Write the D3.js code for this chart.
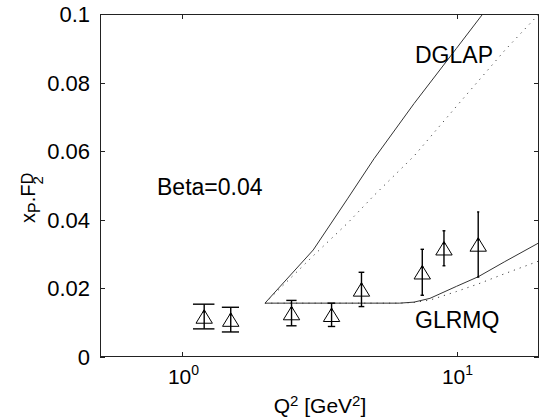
<!DOCTYPE html>
<html>
<head>
<meta charset="utf-8">
<script src="https://cdn.jsdelivr.net/npm/d3@7"></script>
<style>
  html, body { margin: 0; padding: 0; background: #fff; }
  svg { display: block; font-family: "Liberation Sans", Arial, Helvetica, sans-serif; }
</style>
</head>
<body>
<svg id="chart" width="545" height="417"></svg>
<script>
// Measured diffractive structure function points (Q^2, x_P F2^D, error)
const q2Data = [1.2, 1.5, 2.5, 3.5, 4.5, 7.5, 9, 12];
const f2Data = [0.0118, 0.0109, 0.0128, 0.0123, 0.0197, 0.0247, 0.0317, 0.0328];
const f2Err  = [0.0036, 0.0036, 0.0037, 0.0034, 0.0050, 0.0067, 0.0051, 0.0095];

// Model curves
const dglapQ2      = [2, 3, 4, 5, 7, 10, 15, 20];
const dglapSolid   = [0.0157, 0.0312, 0.0461, 0.0578, 0.0739, 0.0900, 0.1084, 0.1210];
const dglapDotted  = [0.0157, 0.0295, 0.0390, 0.0471, 0.0586, 0.0731, 0.0894, 0.1000];

const glrmqQ2      = [2, 4, 6.2, 7, 8, 10, 12, 15, 20];
const glrmqSolid   = [0.0157, 0.0157, 0.0157, 0.0160, 0.0171, 0.0206, 0.0234, 0.0278, 0.0333];
const glrmqDotted  = [0.0157, 0.0157, 0.0157, 0.0159, 0.0166, 0.0191, 0.0213, 0.0243, 0.0280];

const yTicks = [0, 0.02, 0.04, 0.06, 0.08, 0.1];
const yTickLabels = ["0", "0.02", "0.04", "0.06", "0.08", "0.1"];
const xTicks = [1, 10];
const xTickExponents = ["0", "1"];

const svg = d3.select("#chart");
const L = 100, R = 539, T = 14, B = 357;

const x = d3.scaleLog().domain([0.5, 20]).range([L, R]);
const y = d3.scaleLinear().domain([0, 0.1]).range([B, T]);

svg.append("defs").append("clipPath").attr("id", "plotclip")
  .append("rect").attr("x", L).attr("y", T).attr("width", R - L).attr("height", B - T);

const plot = svg.append("g").attr("clip-path", "url(#plotclip)");

const line = d3.line().x(d => x(d[0])).y(d => y(d[1]));

function curve(xs, ys, dotted) {
  plot.append("path")
    .datum(xs.map((v, i) => [v, ys[i]]))
    .attr("d", line)
    .attr("fill", "none")
    .attr("stroke", dotted ? "#444" : "#333")
    .attr("stroke-width", 1)
    .attr("stroke-dasharray", dotted ? "1.2,5" : null);
}
curve(dglapQ2, dglapDotted, true);
curve(glrmqQ2, glrmqDotted, true);
curve(dglapQ2, dglapSolid, false);
curve(glrmqQ2, glrmqSolid, false);

// Error bars with tee width = 1% of the x data span on each side
const tee = (d3.max(q2Data) - d3.min(q2Data)) / 100;
const pts = q2Data.map((q, i) => ({ q, v: f2Data[i], e: f2Err[i] }));
const eb = plot.append("g").attr("stroke", "#000").attr("stroke-width", 1.4).attr("fill", "none");
pts.forEach(p => {
  const cx = x(p.q), lo = y(p.v - p.e), hi = y(p.v + p.e);
  eb.append("line").attr("x1", cx).attr("x2", cx).attr("y1", lo).attr("y2", hi);
  [lo, hi].forEach(yy => {
    eb.append("line").attr("x1", x(p.q - tee)).attr("x2", x(p.q + tee)).attr("y1", yy).attr("y2", yy);
  });
});

// Triangle markers
plot.append("g").selectAll("path").data(pts).join("path")
  .attr("d", p => {
    const cx = x(p.q), cy = y(p.v);
    return `M${cx},${cy - 6.7}L${cx + 8.2},${cy + 6.7}L${cx - 8.2},${cy + 6.7}Z`;
  })
  .attr("fill", "none").attr("stroke", "#000").attr("stroke-width", 1);

plot.append("g").selectAll("circle").data(pts).join("circle")
  .attr("cx", p => x(p.q)).attr("cy", p => y(p.v) - 5)
  .attr("r", 1.3).attr("fill", "#000");

// Axes box and inward ticks
const ax = svg.append("g").attr("stroke", "#222").attr("stroke-width", 1).attr("fill", "none");
ax.append("rect").attr("x", L + 0.5).attr("y", T + 0.5).attr("width", R - L - 1).attr("height", B - T - 1);
yTicks.forEach(t => {
  const yy = Math.round(y(t)) + 0.5;
  ax.append("line").attr("x1", L).attr("x2", L + 5).attr("y1", yy).attr("y2", yy);
  ax.append("line").attr("x1", R - 5).attr("x2", R).attr("y1", yy).attr("y2", yy);
});
xTicks.forEach(t => {
  const xx = Math.round(x(t)) + 0.5;
  ax.append("line").attr("x1", xx).attr("x2", xx).attr("y1", B).attr("y2", B - 5);
  ax.append("line").attr("x1", xx).attr("x2", xx).attr("y1", T).attr("y2", T + 5);
});

// Tick labels
svg.append("g").selectAll("text").data(yTicks).join("text")
  .attr("x", 90).attr("y", d => y(d) + 8)
  .attr("text-anchor", "end").attr("font-size", 22).attr("fill", "#000")
  .text((d, i) => yTickLabels[i]);

xTicks.forEach((t, i) => {
  const tx = svg.append("text").attr("x", x(t) + 1).attr("y", 384)
    .attr("text-anchor", "middle").attr("font-size", 21).attr("fill", "#000");
  tx.append("tspan").text("10");
  tx.append("tspan").attr("font-size", 14).attr("dy", -9).text(xTickExponents[i]);
});

// Axis titles
const xl = svg.append("text").attr("x", 320).attr("y", 413)
  .attr("text-anchor", "middle").attr("font-size", 21).attr("fill", "#000");
xl.append("tspan").text("Q");
xl.append("tspan").attr("font-size", 15).attr("dy", -7).text("2");
xl.append("tspan").attr("dy", 7).text(" [GeV");
xl.append("tspan").attr("font-size", 15).attr("dy", -7).text("2");
xl.append("tspan").attr("dy", 7).text("]");

const yl = svg.append("text").attr("transform", "translate(35,223) rotate(-90)")
  .attr("font-size", 20).attr("fill", "#000");
yl.append("tspan").text("x");
yl.append("tspan").attr("font-size", 16).attr("dy", 5).text("P");
yl.append("tspan").attr("dy", -5).text(".F");
yl.append("tspan").attr("font-size", 15).attr("dy", 8).text("2");
yl.append("tspan").attr("font-size", 16).attr("dx", -8).attr("dy", -10).text("D");

// Curve and parameter annotations
const ann = svg.append("g").attr("font-size", 23).attr("fill", "#000");
ann.append("text").attr("x", 415).attr("y", 63).text("DGLAP");
ann.append("text").attr("x", 157).attr("y", 195).text("Beta=0.04");
ann.append("text").attr("x", 415).attr("y", 328).text("GLRMQ");
</script>
</body>
</html>
